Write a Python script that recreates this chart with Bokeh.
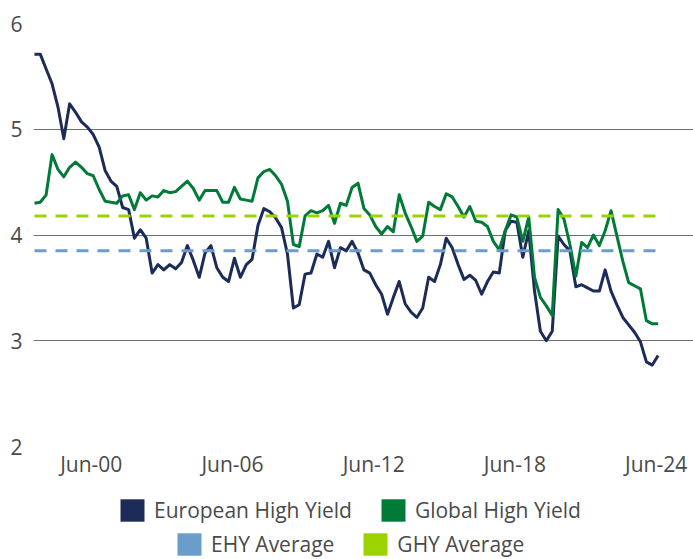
import pandas as pd
from bokeh.plotting import figure
from bokeh.layouts import column
from bokeh.models import Range1d, FixedTicker, Legend, LegendItem, ColumnDataSource
from bokeh.embed import file_html
from bokeh.resources import INLINE

# ---------------- data (quarterly) ----------------
start_date = "1998-01-01"

ehy = [5.71, 5.71, 5.57, 5.43, 5.21, 4.91, 5.24, 5.16, 5.07, 5.02,
       4.95, 4.83, 4.61, 4.51, 4.46, 4.26, 4.24, 3.97, 4.05, 3.97,
       3.64, 3.72, 3.67, 3.72, 3.68, 3.74, 3.90, 3.76, 3.60, 3.83,
       3.90, 3.69, 3.60, 3.56, 3.78, 3.60, 3.72, 3.77, 4.09, 4.25,
       4.22, 4.16, 4.07, 3.82, 3.31, 3.34, 3.63, 3.64, 3.82, 3.79,
       3.94, 3.69, 3.88, 3.85, 3.94, 3.83, 3.67, 3.64, 3.53, 3.44,
       3.25, 3.41, 3.56, 3.35, 3.27, 3.22, 3.31, 3.60, 3.56, 3.72,
       3.97, 3.88, 3.72, 3.58, 3.62, 3.57, 3.44, 3.56, 3.65, 3.64,
       4.04, 4.13, 4.12, 3.79, 4.04, 3.47, 3.09, 3.00, 3.09, 3.99,
       3.91, 3.85, 3.51, 3.53, 3.50, 3.47, 3.47, 3.67, 3.47, 3.34,
       3.22, 3.15, 3.08, 2.99, 2.80, 2.77, 2.86]

ghy = [4.30, 4.31, 4.38, 4.76, 4.62, 4.55, 4.64, 4.69, 4.64, 4.58,
       4.56, 4.43, 4.32, 4.31, 4.30, 4.37, 4.38, 4.24, 4.40, 4.33,
       4.37, 4.36, 4.42, 4.40, 4.41, 4.46, 4.51, 4.44, 4.33, 4.42,
       4.42, 4.42, 4.31, 4.31, 4.45, 4.34, 4.33, 4.32, 4.54, 4.60,
       4.62, 4.56, 4.48, 4.32, 3.91, 3.89, 4.18, 4.23, 4.21, 4.23,
       4.28, 4.11, 4.30, 4.28, 4.45, 4.49, 4.25, 4.19, 4.08, 4.01,
       4.08, 4.03, 4.38, 4.21, 4.08, 3.94, 3.99, 4.31, 4.27, 4.24,
       4.39, 4.36, 4.27, 4.17, 4.27, 4.13, 4.12, 4.08, 3.94, 3.86,
       4.04, 4.19, 4.17, 3.94, 4.17, 3.60, 3.41, 3.33, 3.24, 4.24,
       4.15, 3.91, 3.61, 3.93, 3.88, 4.00, 3.90, 4.04, 4.23, 3.99,
       3.75, 3.55, 3.52, 3.49, 3.19, 3.16, 3.16]

ehy_avg = 3.85
ghy_avg = 4.18

series_names = ["European High Yield", "Global High Yield"]
avg_names = ["EHY Average", "GHY Average"]

tick_dates = ["2000-06-01", "2006-06-01", "2012-06-01", "2018-06-01", "2024-06-01"]
tick_labels = ["Jun-00", "Jun-06", "Jun-12", "Jun-18", "Jun-24"]
y_ticks = [2, 3, 4, 5, 6]

# ---------------- styling ----------------
NAVY = "#1C2B57"
GREEN = "#007A37"
LBLUE = "#6A9DCC"
LIME = "#9BD300"
TEXT = "#4a4a4a"
FONT = "Open Sans"
FS = "21px"

dates = pd.date_range(start_date, periods=len(ehy), freq="3MS")
src = ColumnDataSource(data=dict(date=dates, ehy=ehy, ghy=ghy))

tick_ms = [int(pd.Timestamp(d).value // 10**6) for d in tick_dates]

p = figure(width=693, height=480, x_axis_type="datetime",
           x_range=Range1d(pd.Timestamp("1997-12-17"), pd.Timestamp("2026-01-01")),
           y_range=Range1d(2, 6),
           output_backend="svg", toolbar_location=None,
           min_border_left=33, min_border_right=0, min_border_top=23,
           min_border_bottom=34)
p.outline_line_color = None
p.background_fill_color = "white"
p.border_fill_color = "white"

# axes
p.yaxis.ticker = FixedTicker(ticks=y_ticks)
p.yaxis.axis_line_color = None
p.yaxis.major_tick_line_color = None
p.yaxis.minor_tick_line_color = None
p.yaxis.major_tick_out = 0
p.yaxis.major_tick_in = 0
p.yaxis.major_label_standoff = 11
p.yaxis.major_label_text_font = FONT
p.yaxis.major_label_text_font_size = FS
p.yaxis.major_label_text_color = TEXT

p.xaxis.ticker = FixedTicker(ticks=tick_ms)
p.xaxis.major_label_overrides = {t: l for t, l in zip(tick_ms, tick_labels)}
p.xaxis.axis_line_color = None
p.xaxis.major_tick_line_color = None
p.xaxis.minor_tick_line_color = None
p.xaxis.major_tick_out = 0
p.xaxis.major_tick_in = 0
p.xaxis.major_label_standoff = 3
p.xaxis.major_label_text_font = FONT
p.xaxis.major_label_text_font_size = FS
p.xaxis.major_label_text_color = TEXT

p.xgrid.grid_line_color = None
p.ygrid.grid_line_color = "#707070"
p.ygrid.grid_line_width = 1

# series
p.line(x="date", y="ehy", source=src, line_color=NAVY, line_width=3, line_join="round")
p.line(x="date", y="ghy", source=src, line_color=GREEN, line_width=3, line_join="round")

# averages
p.line(x=[dates[0], dates[-1]], y=[ehy_avg, ehy_avg], line_color=LBLUE,
       line_width=3, line_dash="12 9")
p.line(x=[dates[0], dates[-1]], y=[ghy_avg, ghy_avg], line_color=LIME,
       line_width=3, line_dash="12 9")

# ---------------- legend strip ----------------
lf = figure(width=693, height=79, x_range=Range1d(0, 1), y_range=Range1d(0, 1),
            x_axis_location=None, y_axis_location=None,
            output_backend="svg", toolbar_location=None,
            min_border=0)
lf.outline_line_color = None
lf.grid.visible = False

nan = float("nan")
swatches = []
for c in [NAVY, GREEN, LBLUE, LIME]:
    r = lf.quad(left=[nan], right=[nan], top=[nan], bottom=[nan],
                fill_color=c, line_color=None)
    swatches.append(r)

def make_legend(items, loc):
    lg = Legend(items=items, orientation="horizontal", location=loc)
    lg.glyph_width = 30
    lg.glyph_height = 28
    lg.label_standoff = 7
    lg.spacing = 26
    lg.padding = 0
    lg.margin = 0
    lg.border_line_color = None
    lg.background_fill_alpha = 0
    lg.label_text_font = FONT
    lg.label_text_font_size = FS
    lg.label_text_color = TEXT
    lg.label_height = 28
    return lg

# legend frame is aligned with the main plot frame (starts at x=33)
lg1 = make_legend([LegendItem(label=series_names[0], renderers=[swatches[0]]),
                   LegendItem(label=series_names[1], renderers=[swatches[1]])],
                  (84, 35))
lg2 = make_legend([LegendItem(label=avg_names[0], renderers=[swatches[2]]),
                   LegendItem(label=avg_names[1], renderers=[swatches[3]])],
                  (141, 1))
lf.add_layout(lg1, "center")
lf.add_layout(lg2, "center")

layout = column(p, lf, spacing=0)
open("out.html", "w").write(file_html(layout, INLINE))
